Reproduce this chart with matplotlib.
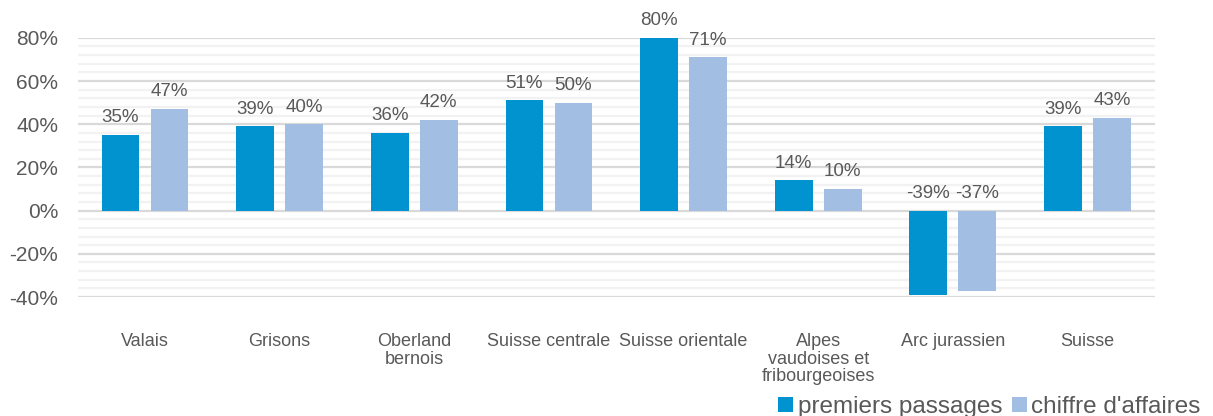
import matplotlib
matplotlib.use("Agg")
import matplotlib.pyplot as plt
import numpy as np
from matplotlib.ticker import FuncFormatter, MultipleLocator

categories = ["Valais", "Grisons", "Oberland\nbernois", "Suisse centrale",
              "Suisse orientale", "Alpes\nvaudoises et\nfribourgeoises",
              "Arc jurassien", "Suisse"]
premiers_passages = [35, 39, 36, 51, 80, 14, -39, 39]
chiffre_affaires = [47, 40, 42, 50, 71, 10, -37, 43]
series_names = ["premiers passages", "chiffre d'affaires"]

plt.rcParams['font.family'] = ['Liberation Sans', 'DejaVu Sans']
txt = '#595959'
c1 = '#0093D0'
c2 = '#A3BEE3'

fig = plt.figure(figsize=(12.13, 4.16), dpi=100)
ax = fig.add_axes([0.064, 0.286, 0.888, 0.623])

x = np.arange(len(categories))
w = 0.28
off = 0.182
b1 = ax.bar(x - off, premiers_passages, w, color=c1, label=series_names[0], zorder=3)
b2 = ax.bar(x + off, chiffre_affaires, w, color=c2, label=series_names[1], zorder=3)

for bars, vals in ((b1, premiers_passages), (b2, chiffre_affaires)):
    for r, v in zip(bars, vals):
        y = max(v, 0)
        ax.text(r.get_x() + r.get_width() / 2, y + 4, f"{v}%", ha='center', va='bottom',
                fontsize=13.5, color=txt, zorder=4)

ax.set_xlim(-0.5, len(categories) - 0.5)
ax.set_ylim(-40, 80)
ax.yaxis.set_major_locator(MultipleLocator(20))
ax.yaxis.set_minor_locator(MultipleLocator(4))
ax.yaxis.set_major_formatter(FuncFormatter(lambda v, p: f"{int(round(v))}%"))
ax.grid(axis='y', which='major', color='#D9D9D9', linewidth=1.6, zorder=0)
ax.grid(axis='y', which='minor', color='#F2F2F2', linewidth=1.6, zorder=0)
ax.set_axisbelow(True)
for s in ax.spines.values():
    s.set_visible(False)
ax.tick_params(axis='both', which='both', length=0)
ax.tick_params(axis='y', labelsize=15, labelcolor=txt, pad=14)
ax.set_xticks(x)
ax.set_xticklabels(categories, fontsize=13, color=txt, linespacing=1.05, va='top')
ax.tick_params(axis='x', pad=26)

fig.legend(loc='lower right', bbox_to_anchor=(1.008, -0.058), ncol=2, frameon=False,
           fontsize=17.5, labelcolor=txt, handlelength=0.6, handleheight=0.6,
           handletextpad=0.2, columnspacing=0.4)

fig.savefig("out.png", dpi=100)
